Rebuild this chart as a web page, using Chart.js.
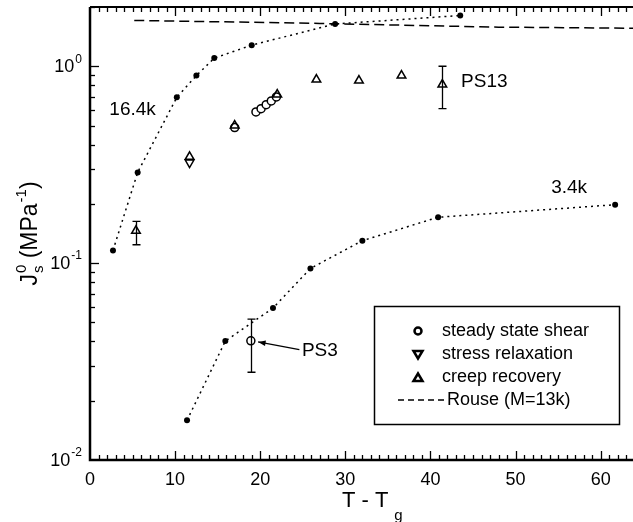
<!DOCTYPE html>
<html>
<head>
<meta charset="utf-8">
<script src="https://cdn.jsdelivr.net/npm/chart.js@4.4.1/dist/chart.umd.min.js"></script>
<style>
  html, body { margin: 0; padding: 0; background: #fff; }
  #wrap { width: 633px; height: 522px; }
</style>
</head>
<body>
<div id="wrap"><canvas id="chart" width="633" height="522"></canvas></div>
<script>
// values (x = T - Tg, y = Js0 in MPa^-1)
const x16k = [2.7, 5.6, 10.2, 12.5, 14.6, 19.0, 28.8, 43.5];
const j16k = [0.116, 0.289, 0.695, 0.897, 1.10, 1.28, 1.64, 1.81];

const x34k = [11.4, 15.9, 21.5, 25.9, 32.0, 40.9, 61.7];
const j34k = [0.0159, 0.0402, 0.0591, 0.094, 0.130, 0.171, 0.198];

const xRouse = [5.2, 27, 48, 64];
const jRouse = [1.71, 1.65, 1.58, 1.56];

const xShear = [17.0, 18.9, 19.5, 20.1, 20.7, 21.3, 21.9];
const jShear = [0.488, 0.0403, 0.586, 0.609, 0.638, 0.667, 0.699];
const shearLo = [null, 0.0279, null, null, null, null, null];
const shearHi = [null, 0.052, null, null, null, null, null];

const xRelax = [11.7];
const jRelax = [0.324];

const xCreep = [5.4, 11.7, 17.0, 22.0, 26.6, 31.6, 36.6, 41.4];
const jCreep = [0.146, 0.347, 0.50, 0.718, 0.856, 0.846, 0.897, 0.807];
const creepLo = [0.124, null, null, null, null, null, null, 0.609];
const creepHi = [0.163, null, null, null, null, null, null, 1.0];

const xTickVals = [0, 10, 20, 30, 40, 50, 60];
const yTickVals = [0.01, 0.1, 1];
const yTickExps = ['-2', '-1', '0'];

const legendLabels = ['steady state shear', 'stress relaxation', 'creep recovery', 'Rouse (M=13k)'];

const FONT = '"Liberation Sans", Arial, Helvetica, sans-serif';
function font(sz) { return sz + 'px ' + FONT; }

function pts(xs, ys) { return xs.map((v, i) => ({ x: v, y: ys[i] })); }

// axes, ticks, labels, error bars, notes and the legend box
const framePlugin = {
    id: 'frame',
    afterDatasetsDraw(chart) {
        const { ctx, chartArea: a, scales: { x, y } } = chart;
        ctx.save();
        ctx.strokeStyle = '#000';
        ctx.fillStyle = '#000';

        // error bars
        ctx.lineWidth = 1.3;
        const bars = [[xShear, shearLo, shearHi], [xCreep, creepLo, creepHi]];
        bars.forEach(([xs, lo, hi]) => {
            xs.forEach((v, i) => {
                if (lo[i] == null) return;
                const px = Math.round(x.getPixelForValue(v)) + 0.5;
                const p1 = y.getPixelForValue(lo[i]);
                const p2 = y.getPixelForValue(hi[i]);
                ctx.beginPath();
                ctx.moveTo(px, p1); ctx.lineTo(px, p2);
                ctx.moveTo(px - 4, p1); ctx.lineTo(px + 4, p1);
                ctx.moveTo(px - 4, p2); ctx.lineTo(px + 4, p2);
                ctx.stroke();
            });
        });

        // frame
        ctx.lineWidth = 2.5;
        ctx.beginPath();
        ctx.moveTo(a.left, a.top); ctx.lineTo(a.left, a.bottom); ctx.lineTo(a.right, a.bottom);
        ctx.stroke();
        ctx.lineWidth = 2;
        ctx.beginPath(); ctx.moveTo(a.left, a.top); ctx.lineTo(a.right, a.top); ctx.stroke();

        // x ticks (inward, top and bottom)
        ctx.lineWidth = 1.3;
        for (let v = 1; v <= x.max; v++) {
            const px = Math.round(x.getPixelForValue(v)) + 0.5;
            const len = v % 10 === 0 ? 9 : 5;
            ctx.beginPath();
            ctx.moveTo(px, a.bottom); ctx.lineTo(px, a.bottom - len);
            ctx.moveTo(px, a.top); ctx.lineTo(px, a.top + len);
            ctx.stroke();
        }
        // y ticks
        for (let e = -2; e <= 0; e++) {
            for (let m = 1; m <= 9; m++) {
                const v = m * Math.pow(10, e);
                if (v > y.max || v <= y.min) continue;
                const py = Math.round(y.getPixelForValue(v)) + 0.5;
                const len = m === 1 ? 9 : 5;
                ctx.beginPath();
                ctx.moveTo(a.left, py); ctx.lineTo(a.left + len, py);
                ctx.stroke();
            }
        }

        // x tick labels
        ctx.font = font(18);
        ctx.textAlign = 'center';
        ctx.textBaseline = 'middle';
        xTickVals.forEach(v => {
            ctx.fillText(String(v), x.getPixelForValue(v), a.bottom + 20);
        });

        // y tick labels 10^n
        yTickVals.forEach((v, i) => {
            const py = y.getPixelForValue(v);
            ctx.font = font(12);
            const sw = ctx.measureText(yTickExps[i]).width;
            ctx.font = font(18);
            const bw = ctx.measureText('10').width;
            const x0 = a.left - 9 - sw - bw;
            ctx.textAlign = 'left';
            ctx.fillText('10', x0, py + 1);
            ctx.font = font(12);
            ctx.fillText(yTickExps[i], x0 + bw + 1, py - 7);
        });

        // x title: T - T_g
        ctx.textAlign = 'left';
        ctx.font = font(22);
        const tw = ctx.measureText('T - T').width;
        const tx = x.getPixelForValue(29.6);
        ctx.fillText('T - T', tx, a.bottom + 41);
        ctx.font = font(15);
        ctx.fillText('g', tx + tw + 6, a.bottom + 56);

        // y title: J_s^0 (MPa^-1)
        ctx.save();
        ctx.translate(31, (a.top + a.bottom) / 2);
        ctx.rotate(-Math.PI / 2);
        ctx.textBaseline = 'middle';
        ctx.font = font(23);
        const wJ = ctx.measureText('J').width;
        ctx.font = font(15);
        const wS = Math.max(ctx.measureText('s').width, ctx.measureText('0').width);
        ctx.font = font(23);
        const wM = ctx.measureText(' (MPa').width;
        ctx.font = font(15);
        const wE = ctx.measureText('-1').width;
        ctx.font = font(23);
        const wP = ctx.measureText(')').width;
        const total = wJ + wS + 1 + wM + wE + 1 + wP;
        let cx = -total / 2;
        ctx.font = font(23);
        ctx.fillText('J', cx, 0); cx += wJ + 1;
        ctx.font = font(15);
        ctx.fillText('0', cx, -9);
        ctx.fillText('s', cx, 8); cx += wS;
        ctx.font = font(23);
        ctx.fillText(' (MPa', cx, 0); cx += wM;
        ctx.font = font(15);
        ctx.fillText('-1', cx + 1, -9); cx += wE + 1;
        ctx.font = font(23);
        ctx.fillText(')', cx, 0);
        ctx.restore();

        // curve labels and notes
        ctx.font = font(19);
        ctx.textBaseline = 'middle';
        ctx.textAlign = 'center';
        ctx.fillText('16.4k', x.getPixelForValue(5.0), y.getPixelForValue(0.60));
        ctx.fillText('3.4k', x.getPixelForValue(56.3), y.getPixelForValue(0.242));
        ctx.textAlign = 'left';
        ctx.fillText('PS13', x.getPixelForValue(43.6), y.getPixelForValue(0.836));
        ctx.fillText('PS3', x.getPixelForValue(24.9), y.getPixelForValue(0.0359));

        // arrow to PS3 point
        const ax1 = x.getPixelForValue(24.6), ay1 = y.getPixelForValue(0.0364);
        const ax2 = x.getPixelForValue(19.75), ay2 = y.getPixelForValue(0.0398);
        ctx.lineWidth = 1.3;
        ctx.beginPath(); ctx.moveTo(ax1, ay1); ctx.lineTo(ax2, ay2); ctx.stroke();
        const ang = Math.atan2(ay2 - ay1, ax2 - ax1);
        ctx.beginPath();
        ctx.moveTo(ax2, ay2);
        ctx.lineTo(ax2 - 8 * Math.cos(ang - 0.35), ay2 - 8 * Math.sin(ang - 0.35));
        ctx.lineTo(ax2 - 8 * Math.cos(ang + 0.35), ay2 - 8 * Math.sin(ang + 0.35));
        ctx.closePath(); ctx.fill();

        // legend box
        const lx = 374.5, ly = 306.5, lw = 245, lh = 118;
        ctx.lineWidth = 1.5;
        ctx.strokeRect(lx, ly, lw, lh);
        const rows = [331, 354.5, 377.5, 400];
        const mx = 418;
        ctx.lineWidth = 2.5;
        // circle
        ctx.beginPath(); ctx.arc(mx, rows[0], 3.5, 0, Math.PI * 2); ctx.stroke();
        // triangle down
        ctx.beginPath();
        ctx.moveTo(mx - 4.5, rows[1] - 3.5); ctx.lineTo(mx + 4.5, rows[1] - 3.5); ctx.lineTo(mx, rows[1] + 4);
        ctx.closePath(); ctx.stroke();
        // triangle up
        ctx.beginPath();
        ctx.moveTo(mx - 4.5, rows[2] + 3.5); ctx.lineTo(mx + 4.5, rows[2] + 3.5); ctx.lineTo(mx, rows[2] - 4);
        ctx.closePath(); ctx.stroke();
        // dashed Rouse sample
        ctx.lineWidth = 1.3;
        ctx.setLineDash([6, 4]);
        ctx.beginPath(); ctx.moveTo(398, rows[3]); ctx.lineTo(445, rows[3]); ctx.stroke();
        ctx.setLineDash([]);

        ctx.font = font(18);
        ctx.textAlign = 'left';
        ctx.textBaseline = 'middle';
        ctx.fillText(legendLabels[0], 442, rows[0]);
        ctx.fillText(legendLabels[1], 442, rows[1]);
        ctx.fillText(legendLabels[2], 442, rows[2]);
        ctx.fillText(legendLabels[3], 447, rows[3]);

        ctx.restore();
    }
};

new Chart(document.getElementById('chart').getContext('2d'), {
    type: 'scatter',
    data: {
        datasets: [
            {
                label: '16.4k',
                data: pts(x16k, j16k),
                showLine: true,
                borderColor: '#000',
                borderWidth: 1.5,
                borderDash: [2, 4],
                pointRadius: 3,
                pointBackgroundColor: '#000',
                pointBorderWidth: 0
            },
            {
                label: '3.4k',
                data: pts(x34k, j34k),
                showLine: true,
                borderColor: '#000',
                borderWidth: 1.5,
                borderDash: [2, 4],
                pointRadius: 3,
                pointBackgroundColor: '#000',
                pointBorderWidth: 0
            },
            {
                label: 'Rouse (M=13k)',
                data: pts(xRouse, jRouse),
                showLine: true,
                borderColor: '#000',
                borderWidth: 1.5,
                borderDash: [10, 5],
                pointRadius: 0
            },
            {
                label: 'creep recovery',
                data: pts(xCreep, jCreep),
                pointStyle: 'triangle',
                pointRadius: 5,
                pointBackgroundColor: 'rgba(255,255,255,0)',
                pointBorderColor: '#000',
                pointBorderWidth: 1.5
            },
            {
                label: 'stress relaxation',
                data: pts(xRelax, jRelax),
                pointStyle: 'triangle',
                rotation: 180,
                pointRadius: 5,
                pointBackgroundColor: 'rgba(255,255,255,0)',
                pointBorderColor: '#000',
                pointBorderWidth: 1.5
            },
            {
                label: 'steady state shear',
                data: pts(xShear, jShear),
                pointStyle: 'circle',
                pointRadius: 4,
                pointBackgroundColor: '#fff',
                pointBorderColor: '#000',
                pointBorderWidth: 1.5
            }
        ]
    },
    options: {
        responsive: false,
        animation: false,
        layout: { autoPadding: false, padding: { top: 7, right: 0, left: 0, bottom: 0 } },
        plugins: { legend: { display: false }, tooltip: { enabled: false } },
        scales: {
            x: {
                type: 'linear', min: 0, max: 63.8,
                ticks: { display: false },
                grid: { display: false },
                border: { display: false },
                afterFit(s) { s.height = 62; }
            },
            y: {
                type: 'logarithmic', min: 0.01, max: 2,
                ticks: { display: false },
                grid: { display: false },
                border: { display: false },
                afterFit(s) { s.width = 90; }
            }
        }
    },
    plugins: [framePlugin]
});
</script>
</body>
</html>
